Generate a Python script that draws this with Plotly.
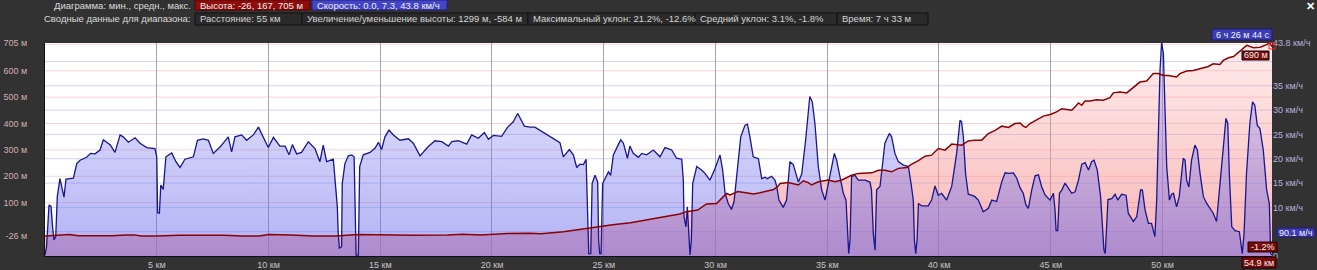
import plotly.graph_objects as go

# ---------------- data ----------------
ELEV_KM = [0.0, 0.5, 1.1, 1.5, 3.0, 3.6, 4.0, 4.3, 5.0, 6.0, 8.0, 8.8, 9.6, 10.0, 11.0, 12.0, 13.0,
           14.0, 15.0, 16.5, 18.0, 18.7, 19.5, 20.7, 21.7, 22.2, 23.2, 23.9, 24.7, 25.4, 26.2, 26.9,
           27.7, 28.4, 28.7, 29.2, 29.6, 30.05, 30.35, 30.5, 30.65, 30.8, 31.0, 31.5, 31.7, 32.0,
           32.3, 32.6, 32.81, 32.89, 33.26, 33.71, 33.93, 34.15, 34.30, 34.60, 35.05, 35.35, 35.65,
           36.09, 36.39, 36.69, 36.99, 37.29, 37.58, 37.88, 38.18, 38.56, 38.78, 39.08, 39.38, 39.67,
           39.97, 40.27, 40.57, 41.01, 41.31, 41.61, 41.91, 42.21, 42.51, 42.81, 43.11, 43.40, 43.63,
           43.77, 43.89, 44.07, 44.37, 44.67, 45.01, 45.26, 45.49, 45.71, 45.94, 46.09, 46.24, 46.39,
           46.53, 46.76, 47.05, 47.35, 47.65, 47.80, 48.10, 48.40, 48.69, 48.99, 49.29, 49.59, 49.81,
           50.04, 50.26, 50.63, 50.78, 51.08, 51.38, 51.75, 52.05, 52.27, 52.57, 52.72, 52.95, 53.18,
           53.47, 53.77, 54.07, 54.37, 54.66, 54.80, 54.90]
ELEV_M = [-26, -25, -21, -25, -25, -22, -22, -26, -26, -23, -23, -26, -26, -21, -22, -26, -26,
          -21, -22, -23, -22, -20, -22, -17, -16, -18, -10, -1, 9, 16, 24, 34,
          47, 57, 66, 72, 95, 97, 123, 135, 129, 135, 142, 136, 133, 138,
          145, 150, 163, 173, 176, 167, 183, 176, 167, 179, 186, 179, 186,
          204, 211, 213, 213, 223, 223, 217, 230, 233, 246, 259, 276, 280,
          305, 299, 322, 318, 334, 337, 337, 362, 374, 390, 385, 400, 402,
          390, 385, 400, 415, 428, 435, 444, 456, 453, 450, 463, 478, 469,
          485, 485, 490, 488, 498, 516, 519, 516, 538, 557, 561, 589, 589,
          582, 582, 576, 589, 599, 601, 609, 616, 626, 624, 639, 649, 654,
          674, 696, 687, 689, 699, 705, 690]

SPEED_KM = [0.00, 0.07, 0.18, 0.27, 0.34, 0.40, 0.48, 0.55, 0.67, 0.75, 0.85, 0.94, 1.27, 1.42, 1.57,
            1.86, 2.04, 2.24, 2.46, 2.61, 2.91, 3.13, 3.36, 3.50, 3.73, 4.03, 4.25, 4.55, 4.92, 5.00,
            5.04, 5.12, 5.18, 5.29, 5.41, 5.67, 5.86, 6.04, 6.26, 6.64, 6.82, 7.08, 7.31, 7.53, 7.83,
            8.20, 8.35, 8.50, 8.80, 9.02, 9.32, 9.55, 9.99, 10.22, 10.51, 10.74, 10.92, 11.07, 11.26,
            11.48, 11.78, 12.08, 12.30, 12.45, 12.60, 12.90, 13.00, 13.08, 13.12, 13.17, 13.27, 13.30,
            13.42, 13.57, 13.72, 13.83, 13.87, 13.92, 14.02, 14.08, 14.24, 14.54, 14.77, 14.92, 15.06,
            15.21, 15.39, 15.59, 15.88, 16.26, 16.48, 16.78, 17.15, 17.45, 17.75, 18.05, 18.20, 18.49,
            18.87, 19.09, 19.39, 19.66, 19.84, 20.06, 20.43, 20.70, 20.95, 21.15, 21.45, 21.70, 21.92,
            22.30, 22.60, 22.82, 23.04, 23.19, 23.46, 23.64, 23.79, 23.94, 24.09, 24.21, 24.27, 24.33,
            24.42, 24.48, 24.61, 24.73, 24.77, 24.82, 24.88, 24.95, 25.10, 25.21, 25.31, 25.43, 25.65,
            25.76, 25.88, 26.06, 26.17, 26.32, 26.55, 26.70, 26.92, 27.22, 27.52, 27.74, 28.04, 28.26,
            28.49, 28.56, 28.59, 28.68, 28.74, 28.80, 28.86, 28.92, 28.98, 29.16, 29.38, 29.53, 29.75,
            29.98, 30.20, 30.32, 30.43, 30.57, 30.72, 30.83, 30.95, 31.13, 31.32, 31.43, 31.54, 31.69,
            31.92, 32.07, 32.22, 32.32, 32.51, 32.66, 32.74, 32.84, 33.03, 33.18, 33.33, 33.48, 33.71,
            33.86, 34.03, 34.15, 34.22, 34.33, 34.45, 34.60, 34.75, 34.90, 35.02, 35.20, 35.32, 35.42,
            35.57, 35.72, 35.84, 35.92, 35.96, 36.02, 36.09, 36.24, 36.39, 36.69, 36.91, 36.98, 37.06,
            37.14, 37.21, 37.36, 37.47, 37.58, 37.78, 37.88, 38.03, 38.18, 38.41, 38.63, 38.75, 38.85,
            38.90, 38.96, 39.02, 39.08, 39.23, 39.52, 39.67, 39.82, 39.97, 40.12, 40.34, 40.57, 40.79,
            40.94, 41.01, 41.09, 41.19, 41.31, 41.46, 41.61, 41.76, 41.98, 42.21, 42.36, 42.58, 42.81,
            42.96, 43.11, 43.33, 43.48, 43.63, 43.77, 43.89, 44.00, 44.15, 44.30, 44.45, 44.59, 44.74,
            44.97, 45.12, 45.19, 45.24, 45.31, 45.39, 45.50, 45.64, 45.79, 45.94, 46.09, 46.24, 46.39,
            46.54, 46.69, 46.83, 46.94, 47.08, 47.23, 47.32, 47.38, 47.44, 47.50, 47.56, 47.73, 47.88,
            48.00, 48.17, 48.37, 48.47, 48.70, 48.85, 49.02, 49.10, 49.22, 49.37, 49.51, 49.66, 49.74,
            49.81, 49.89, 49.96, 50.04, 50.11, 50.19, 50.31, 50.41, 50.49, 50.56, 50.63, 50.75, 50.86,
            50.93, 51.01, 51.08, 51.18, 51.30, 51.45, 51.56, 51.68, 51.83, 51.98, 52.13, 52.27, 52.42,
            52.57, 52.72, 52.84, 52.92, 52.99, 53.10, 53.25, 53.44, 53.51, 53.57, 53.65, 53.76, 53.91,
            54.03, 54.13, 54.24, 54.36, 54.51, 54.66, 54.78, 54.84, 54.90]
SPEED_KMH = [0.2, 1.9, 10.5, 10.2, 6.0, 3.3, 4.0, 12.2, 15.9, 14.3, 12.1, 15.8, 16.0, 19.0, 19.7,
             20.3, 21.1, 21.0, 21.8, 23.9, 22.9, 21.3, 24.9, 24.5, 23.4, 24.3, 23.2, 22.3, 22.1, 20.4,
             8.9, 8.8, 14.6, 13.7, 20.4, 21.2, 19.4, 18.2, 19.9, 20.4, 23.8, 24.1, 23.8, 21.1, 22.4,
             24.5, 21.4, 24.5, 24.9, 23.8, 24.9, 26.5, 22.3, 24.4, 22.6, 22.6, 20.8, 22.9, 21.0,
             21.3, 23.5, 22.1, 19.4, 22.8, 19.4, 19.9, 14.9, 10.1, 4.7, 1.6, 1.9, 14.9,
             19.0, 20.6, 20.8, 20.4, 11.5, 0.2, 0.2, 18.4, 20.8, 21.3, 22.2, 23.4, 21.9,
             24.5, 25.9, 24.9, 23.8, 24.1, 23.2, 20.6, 22.5, 23.7, 23.5, 22.6, 23.5, 23.7,
             23.0, 24.9, 24.2, 25.4, 24.0, 24.8, 24.6, 26.5, 27.6, 29.3, 26.7, 26.5, 26.5,
             25.4, 24.6, 23.9, 23.3, 20.4, 21.9, 20.8, 18.2, 18.9, 18.8, 19.9, 10.1, 0.5,
             0.5, 14.9, 16.6, 15.2, 3.3, 0.5, 0.5, 14.9, 16.3, 17.3, 16.6, 20.8, 22.9,
             23.9, 23.2, 20.1, 22.6, 21.1, 20.3, 21.1, 20.8, 21.8, 20.4, 22.3, 21.8, 20.1,
             19.9, 15.6, 8.1, 6.0, 10.1, 3.3, 0.2, 3.3, 14.9, 18.4, 17.7, 17.0, 15.6,
             18.0, 20.8, 17.7, 12.9, 10.8, 9.6, 11.2, 17.0, 24.5, 26.9, 27.1, 24.5, 20.4,
             20.0, 15.9, 16.2, 15.9, 16.4, 15.6, 14.3, 11.5, 10.0, 11.5, 19.4, 18.8, 15.2,
             16.9, 23.7, 30.6, 32.8, 31.7, 27.2, 18.4, 13.6, 11.5, 14.3, 19.0, 21.1, 19.7,
             16.3, 12.9, 11.5, 3.3, 0.5, 3.3, 16.3, 16.6, 15.6, 15.6, 15.2, 13.6, 4.7,
             1.2, 13.6, 14.3, 18.4, 23.2, 25.2, 24.5, 21.1, 19.4, 18.7, 18.4, 14.9, 11.5,
             3.3, 0.5, 3.3, 10.8, 10.3, 10.3, 11.5, 14.4, 12.5, 12.9, 11.5, 14.3, 21.1,
             27.9, 27.6, 24.5, 16.9, 12.7, 12.5, 12.2, 11.5, 9.1, 9.8, 11.5, 11.2, 15.3,
             17.1, 17.0, 17.1, 16.0, 14.0, 12.9, 10.5, 9.8, 13.6, 16.5, 16.7, 14.3, 12.6,
             11.5, 12.9, 9.5, 5.2, 5.2, 12.9, 13.6, 15.0, 13.9, 12.9, 13.2, 15.6, 18.9,
             19.2, 17.7, 19.4, 19.7, 17.7, 12.2, 5.3, 1.2, 0.5, 6.0, 11.6, 11.8, 12.7,
             11.5, 12.7, 12.5, 8.8, 7.1, 8.1, 13.6, 13.6, 9.5, 6.7, 6.7, 4.0, 11.5,
             27.3, 38.3, 43.8, 41.7, 30.7, 18.4, 11.5, 12.7, 12.9, 11.5, 10.1, 12.2, 17.0,
             20.1, 19.7, 15.6, 14.2, 19.7, 22.8, 21.8, 17.0, 12.2, 10.8, 9.8, 8.8, 7.1,
             14.9, 23.8, 28.3, 27.3, 16.9, 6.0, 5.2, 5.0, 1.9, 0.5, 4.6, 17.0, 27.3,
             31.7, 31.0, 26.9, 26.2, 21.8, 13.6, 10.8, 0.5, 0.2]

X_TICKS = [5, 10, 15, 20, 25, 30, 35, 40, 45, 50]
X_TICK_TEXT = ["5 км", "10 км", "15 км", "20 км", "25 км", "30 км", "35 км", "40 км", "45 км", "50 км"]
ELEV_TICKS = [-26, 100, 200, 300, 400, 500, 600, 705]
ELEV_TICK_TEXT = ["-26 м", "100 м", "200 м", "300 м", "400 м", "500 м", "600 м", "705 м"]
ELEV_GRID = [100, 200, 300, 400, 500, 600, 700]
SPEED_TICKS = [0, 10, 15, 20, 25, 30, 35, 43.8]
SPEED_TICK_TEXT = ["0", "10 км/ч", "15 км/ч", "20 км/ч", "25 км/ч", "30 км/ч", "35 км/ч", "43.8 км/ч"]
SPEED_GRID = [5, 10, 15, 20, 25, 30, 35, 40]

X_RANGE = [0, 54.9]
ELEV_RANGE = [-102, 705]
SPEED_RANGE = [0, 43.8]

HEADER_ROW1_LABEL = "Диаграмма: мин., средн., макс."
HEADER_ROW1 = ["Высота: -26, 167, 705 м", "Скорость: 0.0, 7.3, 43.8 км/ч"]
HEADER_ROW2_LABEL = "Сводные данные для диапазона:"
HEADER_ROW2 = ["Расстояние: 55 км", "Увеличение/уменьшение высоты: 1299 м, -584 м",
               "Максимальный уклон: 21.2%, -12.6%", "Средний уклон: 3.1%, -1.8%", "Время: 7 ч 33 м"]

# ---------------- layout geometry ----------------
W, H = 1317, 270
ML, MR, MT, MB = 45, 45, 43, 14
PW, PH = W - ML - MR, H - MT - MB
FONT = "Liberation Sans, Arial, sans-serif"
HFS = 9.5


def px(x):
    return (x - ML) / PW


def py(y):
    return (H - MB - y) / PH


fig = go.Figure()

# elevation fill (baseline at axis bottom)
fig.add_trace(go.Scatter(x=X_RANGE, y=[ELEV_RANGE[0]] * 2, mode="lines", line=dict(width=0),
                         hoverinfo="skip", showlegend=False, yaxis="y"))
fig.add_trace(go.Scatter(x=ELEV_KM, y=ELEV_M, mode="lines", line=dict(width=0), fill="tonexty",
                         fillgradient=dict(type="vertical", start=ELEV_RANGE[0], stop=ELEV_RANGE[1],
                                           colorscale=[[0, "rgba(240,128,128,0.62)"],
                                                       [1, "rgba(255,165,165,0.22)"]]),
                         hoverinfo="skip", showlegend=False, yaxis="y"))
# speed fill + line
fig.add_trace(go.Scatter(x=SPEED_KM, y=SPEED_KMH, mode="lines", line=dict(width=0), fill="tozeroy",
                         fillgradient=dict(type="vertical", start=SPEED_RANGE[0], stop=SPEED_RANGE[1],
                                           colorscale=[[0, "rgba(100,100,235,0.5)"],
                                                       [1, "rgba(135,135,242,0.22)"]]),
                         hoverinfo="skip", showlegend=False, yaxis="y2"))
fig.add_trace(go.Scatter(x=SPEED_KM, y=SPEED_KMH, mode="lines", line=dict(color="#16168e", width=1.3),
                         showlegend=False, yaxis="y2"))
# elevation line on top
fig.add_trace(go.Scatter(x=ELEV_KM, y=ELEV_M, mode="lines", line=dict(color="#8b0000", width=1.5),
                         showlegend=False, yaxis="y3"))

shapes = []
for v in ELEV_GRID:
    shapes.append(dict(type="line", xref="paper", x0=0, x1=1, yref="y", y0=v, y1=v,
                       line=dict(color="#ffd2d2", width=1), layer="below"))
for v in SPEED_GRID:
    shapes.append(dict(type="line", xref="paper", x0=0, x1=1, yref="y2", y0=v, y1=v,
                       line=dict(color="#d2d2f6", width=1), layer="below"))

annotations = []


def box(x0, y0, x1, y1, text, fill, border, color="#f0f0f0", size=HFS, align="left"):
    shapes.append(dict(type="rect", xref="paper", yref="paper", x0=px(x0), x1=px(x1),
                       y0=py(y1), y1=py(y0), fillcolor=fill, line=dict(color=border, width=1),
                       layer="above"))
    if align == "left":
        annotations.append(dict(xref="paper", yref="paper", x=px(x0 + 3), y=py((y0 + y1) / 2),
                                xanchor="left", yanchor="middle", text=text, showarrow=False,
                                font=dict(family=FONT, size=size, color=color)))
    else:
        annotations.append(dict(xref="paper", yref="paper", x=px((x0 + x1) / 2), y=py((y0 + y1) / 2),
                                xanchor="center", yanchor="middle", text=text, showarrow=False,
                                font=dict(family=FONT, size=size, color=color)))


def label(xr, y, text, color="#dcdcdc", size=HFS):
    annotations.append(dict(xref="paper", yref="paper", x=px(xr), y=py(y), xanchor="right",
                            yanchor="middle", text=text, showarrow=False,
                            font=dict(family=FONT, size=size, color=color)))


# header
label(193, 5, HEADER_ROW1_LABEL)
box(195, 0, 310, 10, HEADER_ROW1[0], "#8e0c0c", "#5a0000")
box(312, 0, 447, 10, HEADER_ROW1[1], "#4444c6", "#22227a")
label(193, 19, HEADER_ROW2_LABEL)
row2_edges = [195, 302, 528, 695, 837, 928]
for i, t in enumerate(HEADER_ROW2):
    box(row2_edges[i], 13, row2_edges[i + 1], 25, t, "#2a2a2a", "#111111", color="#d4d4d4")

annotations.append(dict(xref="paper", yref="paper", x=px(1310), y=py(6), xanchor="center",
                        yanchor="middle", text="<b>✕</b>", showarrow=False,
                        font=dict(family=FONT, size=11, color="#ffffff")))

# cursor readouts
box(1212, 29, 1272, 40, "6 ч 26 м 44 с", "#3c3cb6", "#1c1c70", size=9, align="center")
box(1242, 51, 1269, 60, "690 м", "#7a0a0a", "#1a0000", size=9, align="center")
box(1277, 228, 1315, 237, "90.1 м/ч", "#3c3cb6", "#1c1c70", size=9, align="center")
box(1248, 242, 1277, 252, "-1.2%", "#7a0a0a", "#1a0000", size=9, align="center")
box(1242, 257, 1276, 268, "54.9 км", "#7a0a0a", "#1a0000", size=9, align="center")
shapes.append(dict(type="rect", xref="paper", yref="paper", x0=px(1269), x1=px(1275),
                   y0=py(49), y1=py(43), line=dict(color="#ff2020", width=1), layer="above"))

fig.update_layout(
    width=W, height=H, margin=dict(l=ML, r=MR, t=MT, b=MB, pad=0, autoexpand=False),
    paper_bgcolor="#323232", plot_bgcolor="#ffffff",
    font=dict(family=FONT, size=9, color="#d0d0d0"),
    showlegend=False, hovermode=False,
    shapes=shapes, annotations=annotations,
    xaxis=dict(range=X_RANGE, tickvals=X_TICKS, ticktext=X_TICK_TEXT, showgrid=True,
               gridcolor="#a4a4a4", gridwidth=1, zeroline=False, showline=True, linecolor="#111111",
               linewidth=1, ticks="", tickfont=dict(size=9, color="#c4c4c4"), fixedrange=True,
               automargin=False),
    yaxis=dict(range=ELEV_RANGE, tickvals=ELEV_TICKS, ticktext=ELEV_TICK_TEXT, showgrid=False,
               zeroline=False, showline=True, linecolor="#111111", linewidth=1, ticks="outside",
               ticklen=15, tickcolor="rgba(0,0,0,0)", tickfont=dict(size=9, color="#d6b0b0"),
               fixedrange=True, automargin=False),
    yaxis2=dict(range=SPEED_RANGE, overlaying="y", side="right", tickvals=SPEED_TICKS,
                ticktext=SPEED_TICK_TEXT, showgrid=False, zeroline=False, showline=False, ticks="",
                tickfont=dict(size=9, color="#b2b2dc"), fixedrange=True, automargin=False),
    yaxis3=dict(range=ELEV_RANGE, overlaying="y", visible=False, fixedrange=True, automargin=False),
)

fig.write_html("out.html", config={"displayModeBar": False})
